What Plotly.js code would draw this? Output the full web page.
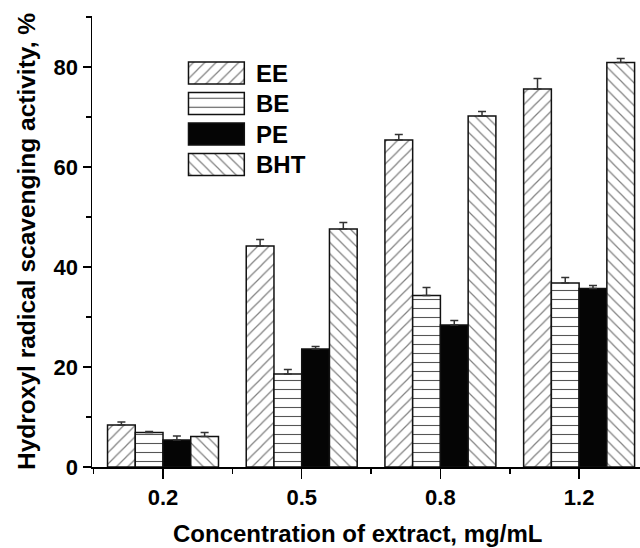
<!DOCTYPE html>
<html>
<head>
<meta charset="utf-8">
<script src="https://cdn.plot.ly/plotly-3.0.1.min.js"></script>
<style>html,body{margin:0;padding:0;background:#fff;}#chart{width:640px;height:548px;}</style>
</head>
<body>
<div id="chart"></div>
<script>
// ---- data ----
const categories = ['0.2', '0.5', '0.8', '1.2'];
const seriesNames = ['EE', 'BE', 'PE', 'BHT'];
const eeValues  = [8.4, 44.2, 65.4, 75.6];
const beValues  = [6.9, 18.6, 34.3, 36.8];
const peValues  = [5.4, 23.6, 28.4, 35.7];
const bhtValues = [6.1, 47.6, 70.2, 80.9];
const eeErr  = [0.6, 1.3, 1.1, 2.1];
const beErr  = [0.2, 0.9, 1.6, 1.1];
const peErr  = [0.8, 0.5, 0.9, 0.6];
const bhtErr = [0.8, 1.3, 0.9, 0.8];
const yTickVals = [0, 20, 40, 60, 80];
const xTitle = 'Concentration of extract, mg/mL';
const yTitle = 'Hydroxyl radical scavenging activity, %';

// ---- styling ----
const FONT = 'Liberation Sans, Arial, Helvetica, sans-serif';
const styles = {
  EE:  {color: '#ffffff', pattern: {shape: '/',  fgcolor: '#808080', bgcolor: '#ffffff', size: 8, solidity: 0.15}},
  BE:  {color: '#ffffff', pattern: {shape: '-',  fgcolor: '#555555', bgcolor: '#ffffff', size: 9, solidity: 0.12}},
  PE:  {color: '#050505', pattern: {shape: ''}},
  BHT: {color: '#ffffff', pattern: {shape: '\\', fgcolor: '#808080', bgcolor: '#ffffff', size: 8, solidity: 0.15}}
};
const valuesBy = {EE: eeValues, BE: beValues, PE: peValues, BHT: bhtValues};
const errBy = {EE: eeErr, BE: beErr, PE: peErr, BHT: bhtErr};
const xIdx = categories.map((c, i) => i);

const traces = [];
seriesNames.forEach(name => {
  const st = styles[name];
  traces.push({
    type: 'bar', name: name, x: xIdx, y: valuesBy[name], showlegend: false,
    marker: {color: st.color, line: {color: '#111', width: 1.5}, pattern: st.pattern},
    error_y: {type: 'data', symmetric: false, array: errBy[name], arrayminus: categories.map(() => 0),
              color: '#333', thickness: 1.5, width: 4},
    hoverinfo: 'x+y'
  });
});
// legend swatches drawn as a small helper subplot
seriesNames.forEach((name, i) => {
  const st = styles[name];
  traces.push({
    type: 'bar', orientation: 'h', x: [1], y: [i], width: 0.72, xaxis: 'x2', yaxis: 'y2',
    showlegend: false, hoverinfo: 'skip',
    marker: {color: st.color, line: {color: '#111', width: 1.5}, pattern: st.pattern}
  });
});

const annotations = seriesNames.map((name, i) => ({
  xref: 'paper', yref: 'y2', x: 0.2956, y: i, text: name, showarrow: false,
  xanchor: 'left', yanchor: 'middle', font: {family: FONT, size: 24, color: '#000', weight: 'bold'}
}));
annotations.push({
  xref: 'paper', yref: 'paper', x: 0.4836, y: 0, yshift: -66, text: xTitle, showarrow: false,
  xanchor: 'center', yanchor: 'middle', font: {family: FONT, size: 24, color: '#000', weight: 'bold'}
});

const layout = {
  width: 640, height: 548,
  margin: {l: 92, r: 0, t: 16, b: 81},
  paper_bgcolor: '#fff', plot_bgcolor: '#fff',
  barmode: 'group', bargap: 0.2, bargroupgap: 0,
  font: {family: FONT, color: '#000'},
  xaxis: {
    range: [-0.512, 3.439], tickmode: 'array', tickvals: xIdx, ticktext: categories,
    showline: true, linecolor: '#000', linewidth: 1.5, showgrid: false, zeroline: false,
    ticks: 'outside', ticklen: 10, tickwidth: 1.5, tickcolor: '#000',
    minor: {tickmode: 'array', tickvals: [-0.5, 0.5, 1.5, 2.5], ticks: 'outside', ticklen: 5, tickwidth: 1.5, tickcolor: '#000'},
    tickfont: {family: FONT, size: 22, weight: 'bold', color: '#000'},
    automargin: false, fixedrange: true
  },
  yaxis: {
    range: [0, 90.2], tickmode: 'array', tickvals: yTickVals,
    showline: true, linecolor: '#000', linewidth: 1.5, showgrid: false, zeroline: false,
    ticks: 'outside', ticklen: 8, tickwidth: 1.5, tickcolor: '#000',
    minor: {dtick: 10, ticks: 'outside', ticklen: 5, tickwidth: 1.5, tickcolor: '#000'},
    tickfont: {family: FONT, size: 22, weight: 'bold', color: '#000'},
    title: {text: yTitle, font: {family: FONT, size: 24.5, weight: 'bold', color: '#000'}, standoff: 11},
    automargin: false, fixedrange: true
  },
  xaxis2: {domain: [0.173, 0.281], range: [-0.03, 1.03], visible: false, anchor: 'y2', fixedrange: true},
  yaxis2: {domain: [0.6369, 0.9074], range: [3.5, -0.5], visible: false, anchor: 'x2', fixedrange: true},
  annotations: annotations
};

Plotly.newPlot('chart', traces, layout, {displayModeBar: false, staticPlot: true});
</script>
</body>
</html>
